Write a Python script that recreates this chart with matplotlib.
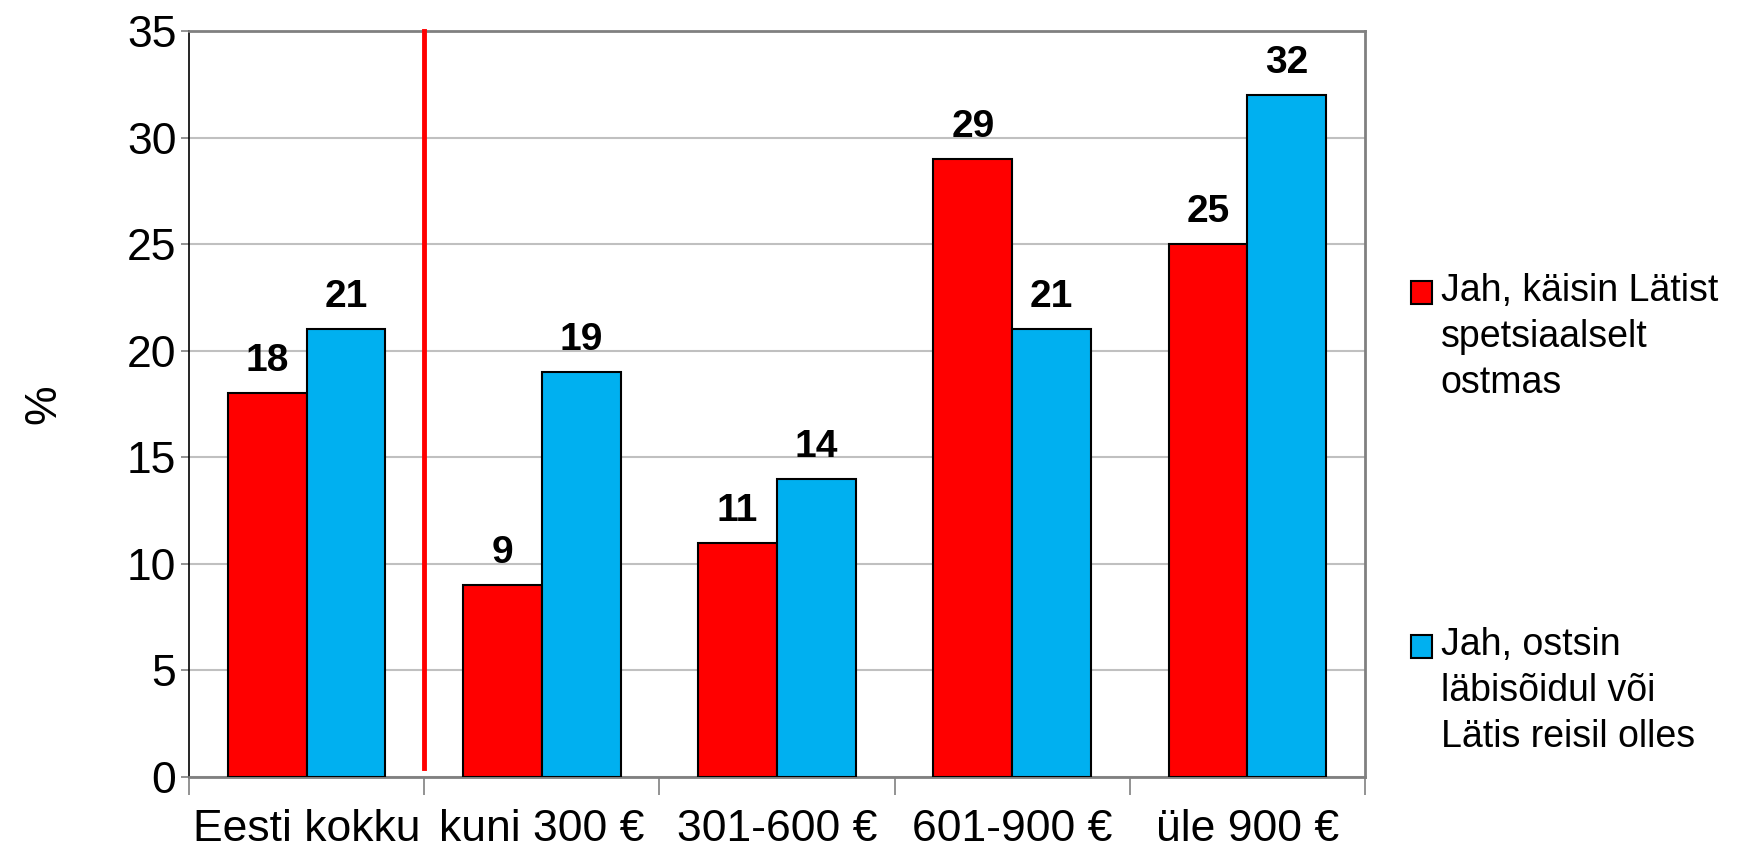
import matplotlib.pyplot as plt
import matplotlib.patches as mpatches
import numpy as np

plt.rcParams['font.family'] = ['Liberation Sans', 'DejaVu Sans']

categories = ['Eesti kokku', 'kuni 300 €', '301-600 €', '601-900 €', 'üle 900 €']
spetsiaalselt = [18, 9, 11, 29, 25]
labisoidul = [21, 19, 14, 21, 32]
series_names = ['Jah, käisin Lätist\nspetsiaalselt\nostmas',
                'Jah, ostsin\nläbisõidul või\nLätis reisil olles']
colors = ['#FF0000', '#00B0F0']

fig = plt.figure(figsize=(17.4, 8.51), dpi=100)
ax = fig.add_axes([0.1086, 0.087, 0.6759, 0.8766])

x = np.arange(len(categories))
w = 0.335
for vals, off, col in [(spetsiaalselt, -w / 2, colors[0]), (labisoidul, w / 2, colors[1])]:
    bars = ax.bar(x + off, vals, w, color=col, edgecolor='black', linewidth=1.5, zorder=3)
    for b, v in zip(bars, vals):
        ax.annotate(str(v), (b.get_x() + b.get_width() / 2, v), xytext=(0, 10),
                    textcoords='offset points', ha='center', va='bottom',
                    fontsize=28, fontweight='bold')

# separator between total and income groups
ax.axvline(0.5, ymin=0.012, ymax=1.0, color='#FF0000', lw=3.5, zorder=4, clip_on=False)

ax.set_xlim(-0.5, len(categories) - 0.5)
ax.set_ylim(0, 35)
ax.set_yticks(range(0, 36, 5))
ax.yaxis.grid(True, color='#C0C0C0', lw=1.5, zorder=0)
ax.set_axisbelow(True)

ax.set_xticks(x)
ax.set_xticklabels(categories, fontsize=32)
ax.set_xticks(np.arange(-0.5, len(categories), 1), minor=True)
ax.tick_params(axis='x', which='major', length=0, pad=23)
ax.tick_params(axis='x', which='minor', length=13, width=1.2, color='#808080', direction='out')
ax.tick_params(axis='y', labelsize=32, length=6, width=1.2, color='#808080', pad=3)

for s in ['top', 'right', 'bottom']:
    ax.spines[s].set_color('#808080')
    ax.spines[s].set_linewidth(2)
ax.spines['left'].set_color('black')
ax.spines['left'].set_linewidth(1.2)

ax.set_ylabel('%', fontsize=32, labelpad=45)

# legend at the right, drawn by hand so the marker sits at the first line
for name, col, ytop in zip(series_names, colors, [0.672, 0.256]):
    fig.add_artist(mpatches.Rectangle((0.811, ytop - 0.029), 0.012, 0.027,
                                      transform=fig.transFigure, facecolor=col,
                                      edgecolor='black', lw=1.5))
    fig.text(0.828, ytop + 0.007, name, fontsize=27, va='top', ha='left', linespacing=1.36)

fig.savefig('out.png', dpi=100)
